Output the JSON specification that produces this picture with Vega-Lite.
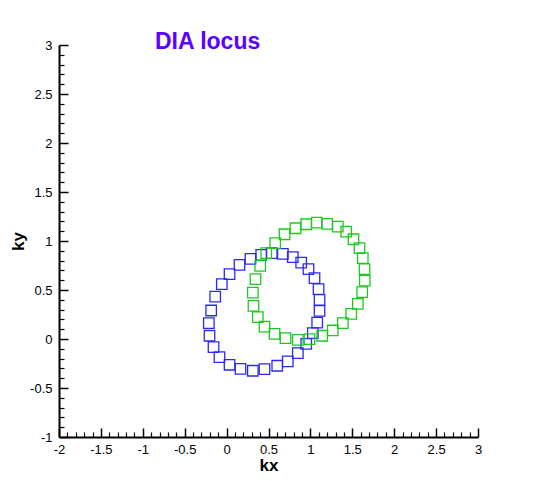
{
  "$schema": "https://vega.github.io/schema/vega-lite/v6.json",
  "width": 419,
  "height": 392,
  "autosize": {"type": "none"},
  "padding": {"left": 59, "top": 45, "right": 65, "bottom": 44},
  "background": "white",
  "config": {"view": {"stroke": null}},
  "title": {
    "text": "DIA locus",
    "anchor": "start",
    "frame": "group",
    "dx": 96,
    "dy": 33,
    "offset": 0,
    "baseline": "alphabetic",
    "font": "Liberation Sans",
    "fontSize": 23,
    "fontWeight": "bold",
    "color": "#5c00ff"
  },
  "data": {
    "values": [
      {"s": "blue", "kx": 0.285, "ky": 0.818},
      {"s": "blue", "kx": 0.413, "ky": 0.858},
      {"s": "blue", "kx": 0.539, "ky": 0.876},
      {"s": "blue", "kx": 0.671, "ky": 0.869},
      {"s": "blue", "kx": 0.790, "ky": 0.835},
      {"s": "blue", "kx": 0.890, "ky": 0.780},
      {"s": "blue", "kx": 0.977, "ky": 0.713},
      {"s": "blue", "kx": 1.049, "ky": 0.621},
      {"s": "blue", "kx": 1.097, "ky": 0.509},
      {"s": "blue", "kx": 1.109, "ky": 0.400},
      {"s": "blue", "kx": 1.109, "ky": 0.287},
      {"s": "blue", "kx": 1.081, "ky": 0.168},
      {"s": "blue", "kx": 1.029, "ky": 0.060},
      {"s": "blue", "kx": 0.950, "ky": -0.049},
      {"s": "blue", "kx": 0.850, "ky": -0.144},
      {"s": "blue", "kx": 0.730, "ky": -0.229},
      {"s": "blue", "kx": 0.604, "ky": -0.273},
      {"s": "blue", "kx": 0.452, "ky": -0.307},
      {"s": "blue", "kx": 0.313, "ky": -0.324},
      {"s": "blue", "kx": 0.166, "ky": -0.304},
      {"s": "blue", "kx": 0.035, "ky": -0.263},
      {"s": "blue", "kx": -0.085, "ky": -0.185},
      {"s": "blue", "kx": -0.156, "ky": -0.083},
      {"s": "blue", "kx": -0.204, "ky": 0.033},
      {"s": "blue", "kx": -0.212, "ky": 0.162},
      {"s": "blue", "kx": -0.184, "ky": 0.291},
      {"s": "blue", "kx": -0.136, "ky": 0.433},
      {"s": "blue", "kx": -0.057, "ky": 0.560},
      {"s": "blue", "kx": 0.035, "ky": 0.662},
      {"s": "blue", "kx": 0.154, "ky": 0.756},
      {"s": "green", "kx": 0.473, "ky": 0.876},
      {"s": "green", "kx": 0.580, "ky": 0.978},
      {"s": "green", "kx": 0.691, "ky": 1.069},
      {"s": "green", "kx": 0.822, "ky": 1.130},
      {"s": "green", "kx": 0.950, "ky": 1.171},
      {"s": "green", "kx": 1.076, "ky": 1.188},
      {"s": "green", "kx": 1.200, "ky": 1.174},
      {"s": "green", "kx": 1.327, "ky": 1.147},
      {"s": "green", "kx": 1.427, "ky": 1.096},
      {"s": "green", "kx": 1.514, "ky": 1.018},
      {"s": "green", "kx": 1.586, "ky": 0.927},
      {"s": "green", "kx": 1.625, "ky": 0.825},
      {"s": "green", "kx": 1.646, "ky": 0.713},
      {"s": "green", "kx": 1.649, "ky": 0.596},
      {"s": "green", "kx": 1.618, "ky": 0.478},
      {"s": "green", "kx": 1.566, "ky": 0.359},
      {"s": "green", "kx": 1.487, "ky": 0.257},
      {"s": "green", "kx": 1.387, "ky": 0.162},
      {"s": "green", "kx": 1.267, "ky": 0.087},
      {"s": "green", "kx": 1.141, "ky": 0.033},
      {"s": "green", "kx": 0.989, "ky": -0.001},
      {"s": "green", "kx": 0.850, "ky": -0.008},
      {"s": "green", "kx": 0.703, "ky": 0.009},
      {"s": "green", "kx": 0.572, "ky": 0.053},
      {"s": "green", "kx": 0.452, "ky": 0.127},
      {"s": "green", "kx": 0.372, "ky": 0.223},
      {"s": "green", "kx": 0.321, "ky": 0.338},
      {"s": "green", "kx": 0.313, "ky": 0.474},
      {"s": "green", "kx": 0.345, "ky": 0.611},
      {"s": "green", "kx": 0.401, "ky": 0.746}
    ]
  },
  "layer": [
    {
      "mark": {"type": "point", "shape": "square", "filled": false, "size": 110, "strokeWidth": 1.3, "opacity": 1},
      "encoding": {
        "x": {
          "field": "kx", "type": "quantitative",
          "scale": {"domain": [-2, 3], "nice": false, "zero": false},
          "axis": {
            "orient": "bottom",
            "values": [-2, -1.5, -1, -0.5, 0, 0.5, 1, 1.5, 2, 2.5, 3],
            "labelExpr": "toString(datum.value)",
            "grid": false,
            "domainColor": "black", "domainWidth": 2,
            "tickColor": "black", "tickWidth": 1.5, "tickSize": -9,
            "labelFont": "Liberation Sans", "labelFontSize": 13, "labelColor": "black",
            "labelPadding": 15, "labelOverlap": false, "labelFlush": false,
            "title": "kx", "titleFont": "Liberation Sans", "titleFontSize": 17,
            "titleFontWeight": "bold", "titleColor": "black", "titlePadding": 1
          }
        },
        "y": {
          "field": "ky", "type": "quantitative",
          "scale": {"domain": [-1, 3], "nice": false, "zero": false},
          "axis": {
            "orient": "left",
            "values": [-1, -0.5, 0, 0.5, 1, 1.5, 2, 2.5, 3],
            "labelExpr": "toString(datum.value)",
            "grid": false,
            "domainColor": "black", "domainWidth": 2,
            "tickColor": "black", "tickWidth": 1.5, "tickSize": -9,
            "labelFont": "Liberation Sans", "labelFontSize": 13, "labelColor": "black",
            "labelPadding": 16, "labelOverlap": false, "labelFlush": false,
            "title": "ky", "titleFont": "Liberation Sans", "titleFontSize": 17,
            "titleFontWeight": "bold", "titleColor": "black", "titlePadding": 2
          }
        },
        "color": {
          "field": "s", "type": "nominal",
          "scale": {"domain": ["blue", "green"], "range": ["#2a2af0", "#1ec81e"]},
          "legend": null
        }
      }
    },
    {
      "mark": {"type": "point", "opacity": 0},
      "encoding": {
        "x": {
          "field": "kx", "type": "quantitative",
          "axis": {
            "orient": "bottom",
            "values": [-1.9, -1.8, -1.7, -1.6, -1.4, -1.3, -1.2, -1.1, -0.9, -0.8, -0.7, -0.6, -0.4, -0.3, -0.2, -0.1, 0.1, 0.2, 0.3, 0.4, 0.6, 0.7, 0.8, 0.9, 1.1, 1.2, 1.3, 1.4, 1.6, 1.7, 1.8, 1.9, 2.1, 2.2, 2.3, 2.4, 2.6, 2.7, 2.8, 2.9],
            "labels": false, "domain": false, "grid": false, "title": null,
            "tickColor": "black", "tickWidth": 1.2, "tickSize": -5
          }
        },
        "y": {
          "field": "ky", "type": "quantitative",
          "axis": {
            "orient": "left",
            "values": [-0.9, -0.8, -0.7, -0.6, -0.4, -0.3, -0.2, -0.1, 0.1, 0.2, 0.3, 0.4, 0.6, 0.7, 0.8, 0.9, 1.1, 1.2, 1.3, 1.4, 1.6, 1.7, 1.8, 1.9, 2.1, 2.2, 2.3, 2.4, 2.6, 2.7, 2.8, 2.9],
            "labels": false, "domain": false, "grid": false, "title": null,
            "tickColor": "black", "tickWidth": 1.2, "tickSize": -5
          }
        }
      }
    }
  ],
  "resolve": {"axis": {"x": "independent", "y": "independent"}}
}
